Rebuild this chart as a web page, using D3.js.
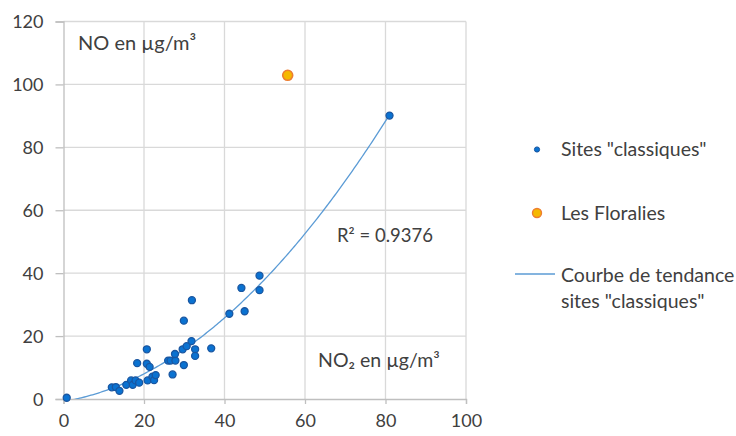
<!DOCTYPE html>
<html>
<head>
<meta charset="utf-8">
<script src="https://cdn.jsdelivr.net/npm/d3@7"></script>
<style>
  body { margin: 0; background: #fff; }
  text { font-family: Lato, "Open Sans", sans-serif; fill: #404040; }
</style>
</head>
<body>
<script>
// NO2 (x) vs NO (y), sites "classiques"
var classicNO2 = [0.8, 12.0, 13.0, 13.9, 15.6, 16.8, 17.2, 17.9, 18.8, 18.3, 20.7, 20.7, 21.4, 20.9, 22.1, 22.5, 22.9,
                  26.0, 26.6, 27.8, 27.7, 27.1, 29.9, 29.6, 30.6, 31.8, 32.7, 32.7, 29.9, 31.9, 36.7, 41.2, 45.0, 44.2, 48.7, 48.7, 81.0];
var classicNO  = [0.4, 3.7, 3.8, 2.6, 4.5, 5.9, 4.5, 5.9, 5.2, 11.4, 15.8, 11.2, 10.2, 5.9, 7.1, 6.0, 7.6,
                  12.2, 12.2, 12.2, 14.3, 7.8, 10.8, 15.8, 16.8, 18.4, 15.8, 13.7, 24.9, 31.4, 16.1, 27.1, 27.9, 35.3, 39.2, 34.6, 90.1];
var floraliesNO2 = [55.7];
var floraliesNO  = [102.9];
var xTicks = [0, 20, 40, 60, 80, 100];
var yTicks = [0, 20, 40, 60, 80, 100, 120];
var r2Label = "R² = 0.9376";

var w = 736, h = 436;

var svg = d3.select("body").append("svg")
  .attr("width", w)
  .attr("height", h);

var x = d3.scaleLinear().domain([0, 100]).range([63.5, 466]);
var y = d3.scaleLinear().domain([0, 120]).range([399, 21.5]);

// grid
svg.append("g").selectAll("line.vg")
  .data(xTicks.slice(1)).enter().append("line")
  .attr("x1", function (d) { return x(d); }).attr("x2", function (d) { return x(d); })
  .attr("y1", y(0)).attr("y2", y(120))
  .attr("stroke", "#d9d9d9").attr("stroke-width", 1.3);
svg.append("g").selectAll("line.hg")
  .data(yTicks.slice(1)).enter().append("line")
  .attr("x1", x(0)).attr("x2", x(100))
  .attr("y1", function (d) { return y(d); }).attr("y2", function (d) { return y(d); })
  .attr("stroke", "#d9d9d9").attr("stroke-width", 1.3);

// axes
var xAxis = d3.axisBottom(x).tickValues(xTicks).tickSize(5).tickPadding(10);
var yAxis = d3.axisLeft(y).tickValues(yTicks).tickSize(8).tickPadding(12);

var gx = svg.append("g").attr("transform", "translate(0," + y(0) + ")").call(xAxis);
var gy = svg.append("g").attr("transform", "translate(" + x(0) + ",0)").call(yAxis);
[gx, gy].forEach(function (g) {
  g.select(".domain").attr("stroke", "#bfbfbf").attr("stroke-width", 1.3);
  g.selectAll(".tick line").attr("stroke", "#bfbfbf").attr("stroke-width", 1.3);
  g.selectAll(".tick text").style("font-family", "Lato, 'Open Sans', sans-serif")
    .style("font-size", "18px").attr("fill", "#404040");
});
gy.selectAll(".tick text").attr("dy", "0.35em");

// trend: 2nd order least squares on classic sites
function polyFit2(xs, ys) {
  var n = xs.length, s = [0, 0, 0, 0, 0], t = [0, 0, 0];
  for (var i = 0; i < n; i++) {
    var p = 1;
    for (var k = 0; k < 5; k++) { s[k] += p; if (k < 3) t[k] += p * ys[i]; p *= xs[i]; }
  }
  var A = [[s[0], s[1], s[2], t[0]], [s[1], s[2], s[3], t[1]], [s[2], s[3], s[4], t[2]]];
  for (var c = 0; c < 3; c++) {
    for (var r = c + 1; r < 3; r++) {
      var f = A[r][c] / A[c][c];
      for (var j = c; j < 4; j++) A[r][j] -= f * A[c][j];
    }
  }
  var co = [0, 0, 0];
  for (var r2 = 2; r2 >= 0; r2--) {
    var v = A[r2][3];
    for (var j2 = r2 + 1; j2 < 3; j2++) v -= A[r2][j2] * co[j2];
    co[r2] = v / A[r2][r2];
  }
  return co;
}
var co = polyFit2(classicNO2, classicNO);
var xmin = d3.min(classicNO2), xmax = d3.max(classicNO2);
var trend = d3.range(0, 201).map(function (i) {
  var xv = xmin + (xmax - xmin) * i / 200;
  return [xv, co[0] + co[1] * xv + co[2] * xv * xv];
});

svg.append("clipPath").attr("id", "plot").append("rect")
  .attr("x", x(0)).attr("y", y(120)).attr("width", x(100) - x(0)).attr("height", y(0) - y(120));

svg.append("path")
  .datum(trend)
  .attr("clip-path", "url(#plot)")
  .attr("fill", "none")
  .attr("stroke", "#5b9bd5")
  .attr("stroke-width", 1.3)
  .attr("d", d3.line().x(function (d) { return x(d[0]); }).y(function (d) { return y(d[1]); }));

// points
svg.append("g").selectAll("circle")
  .data(classicNO2.map(function (d, i) { return [d, classicNO[i]]; }))
  .enter().append("circle")
  .attr("cx", function (d) { return x(d[0]); })
  .attr("cy", function (d) { return y(d[1]); })
  .attr("r", 3.5)
  .attr("fill", "#0a72d1")
  .attr("stroke", "#1a56a0")
  .attr("stroke-width", 1.3);

svg.append("g").selectAll("circle")
  .data(floraliesNO2.map(function (d, i) { return [d, floraliesNO[i]]; }))
  .enter().append("circle")
  .attr("cx", function (d) { return x(d[0]); })
  .attr("cy", function (d) { return y(d[1]); })
  .attr("r", 5)
  .attr("fill", "#f5b800")
  .attr("stroke", "#ed7d31")
  .attr("stroke-width", 1.6);

// labels
svg.append("text").attr("x", 78).attr("y", 50).style("font-size", "20px").attr("fill", "#262626").text("NO en µg/m³");
svg.append("text").attr("x", 318).attr("y", 367).style("font-size", "19.5px").attr("fill", "#262626").text("NO₂ en µg/m³");
svg.append("text").attr("x", 337).attr("y", 242).style("font-size", "18.5px").text(r2Label);

// legend
var lg = svg.append("g").style("font-size", "19.5px");
lg.append("circle").attr("cx", 537).attr("cy", 149.5).attr("r", 2.6).attr("fill", "#0a72d1").attr("stroke", "#1a56a0").attr("stroke-width", 1);
lg.append("text").attr("x", 561).attr("y", 155.5).attr("fill", "#262626").text('Sites "classiques"');
lg.append("circle").attr("cx", 537).attr("cy", 213).attr("r", 4.5).attr("fill", "#f5b800").attr("stroke", "#ed7d31").attr("stroke-width", 1.4);
lg.append("text").attr("x", 561).attr("y", 219.5).attr("fill", "#262626").text("Les Floralies");
lg.append("line").attr("x1", 515).attr("x2", 555).attr("y1", 274).attr("y2", 274).attr("stroke", "#5b9bd5").attr("stroke-width", 1.3);
lg.append("text").attr("x", 561).attr("y", 281.5).attr("fill", "#262626").text("Courbe de tendance");
lg.append("text").attr("x", 561).attr("y", 308).attr("fill", "#262626").text('sites "classiques"');
</script>
</body>
</html>
